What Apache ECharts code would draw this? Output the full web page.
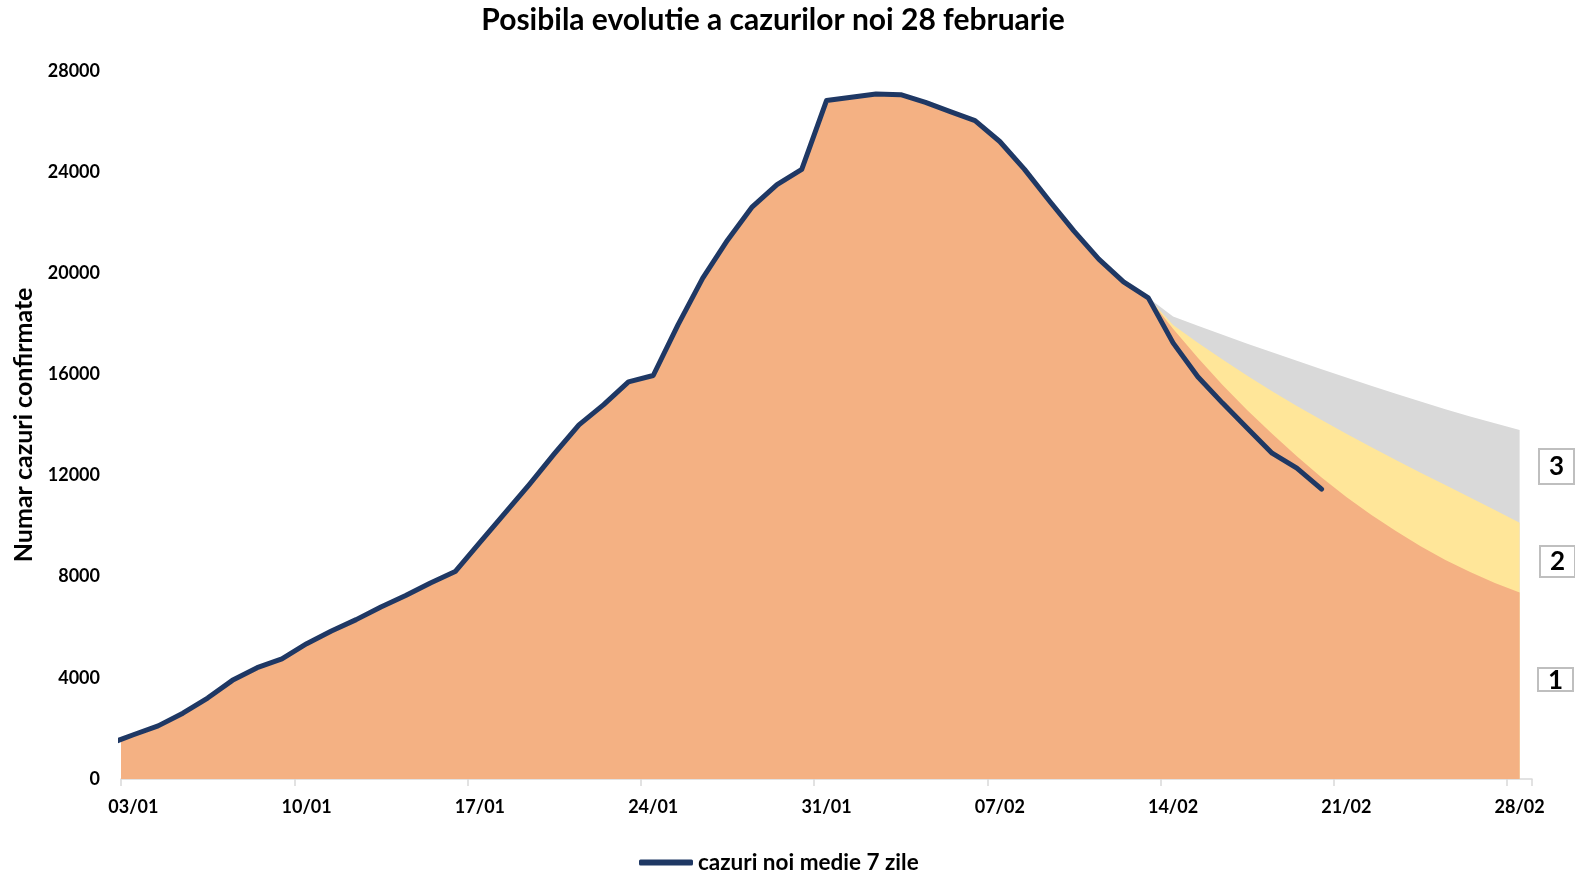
<!DOCTYPE html>
<html>
<head>
<meta charset="utf-8">
<script src="https://cdn.jsdelivr.net/npm/echarts@6/dist/echarts.min.js"></script>
<style>
html,body{margin:0;padding:0;background:#fff;}
#c{width:1575px;height:876px;}
</style>
</head>
<body>
<div id="c"></div>
<script>
// Category labels: 03/01 .. 28/02
const dates = ['03/01','04/01','05/01','06/01','07/01','08/01','09/01','10/01','11/01','12/01','13/01','14/01','15/01','16/01','17/01','18/01','19/01','20/01','21/01','22/01','23/01','24/01','25/01','26/01','27/01','28/01','29/01','30/01','31/01','01/02','02/02','03/02','04/02','05/02','06/02','07/02','08/02','09/02','10/02','11/02','12/02','13/02','14/02','15/02','16/02','17/02','18/02','19/02','20/02','21/02','22/02','23/02','24/02','25/02','26/02','27/02','28/02'];

// 7-day average of new cases, from 02/01 (index -1 on the axis) to 20/02
const actualStartDay = -1;
const actual = [1380,1750,2100,2600,3200,3900,4400,4750,5350,5850,6300,6800,7250,7750,8200,9350,10500,11650,12850,14000,14800,15700,15950,17950,19800,21300,22620,23500,24100,26820,26950,27080,27050,26750,26380,26030,25200,24100,22860,21660,20550,19650,19020,17240,15900,14860,13870,12880,12290,11460];

// Scenarios, from 13/02 (day 41) to 28/02 (day 56)
const scenarioStartDay = 41;
const scenario1 = [19020,17800,16650,15580,14580,13650,12760,11920,11150,10450,9800,9200,8660,8180,7750,7370];
const scenario2 = [19020,17950,17250,16580,15940,15330,14750,14190,13650,13120,12610,12110,11620,11130,10630,10130];
const scenario3 = [19020,18280,17920,17560,17210,16870,16530,16200,15870,15550,15230,14920,14620,14330,14060,13800];

// Y axis ticks
const yTicks = [0,4000,8000,12000,16000,20000,24000,28000];

const FONT = 'Lato';

const actualPts = actual.map((v,i)=>[actualStartDay+i, v]);
const toPts = arr => arr.map((v,i)=>[scenarioStartDay+i, v]);
const orangePts = actualPts.filter(p=>p[0] <= scenarioStartDay).concat(toPts(scenario1).slice(1));

const areaSeries = (name, pts, color) => ({
  name: name, type: 'line', xAxisIndex: 1, data: pts,
  symbol: 'none', silent: true,
  lineStyle: {width: 0, color: color},
  itemStyle: {color: color},
  areaStyle: {color: color, opacity: 1},
  clip: true, animation: false
});

const chart = echarts.init(document.getElementById('c'), null, {renderer: 'canvas'});
chart.setOption({
  animation: false,
  backgroundColor: '#ffffff',
  title: {
    text: 'Posibila evolutie a cazurilor noi 28 februarie',
    left: 768, top: 0, textAlign: 'center',
    textStyle: {fontFamily: FONT, fontWeight: 'bold', fontSize: 30, color: '#000'}
  },
  legend: {
    data: ['cazuri noi medie 7 zile'],
    left: 634, top: 846,
    icon: 'roundRect', itemWidth: 54, itemHeight: 6,
    textStyle: {fontFamily: FONT, fontWeight: 'bold', fontSize: 22.5, color: '#000'}
  },
  grid: {left: 121, right: 43, top: 70.7, bottom: 97, containLabel: false},
  xAxis: [{
    type: 'category', data: dates, boundaryGap: true, position: 'bottom',
    axisLine: {show: true, lineStyle: {color: '#D9D9D9', width: 1.5}},
    axisTick: {show: true, interval: 6, length: 7, lineStyle: {color: '#D9D9D9', width: 1.5}},
    axisLabel: {interval: 6, margin: 19, fontFamily: FONT, fontWeight: 'bold', fontSize: 18, color: '#000'},
    splitLine: {show: false}
  }, {
    type: 'value', min: -0.5, max: 56.5, show: false, position: 'bottom',
    splitLine: {show: false}
  }],
  yAxis: {
    type: 'value', min: yTicks[0], max: yTicks[yTicks.length-1], interval: 4000,
    name: 'Numar cazuri confirmate', nameLocation: 'middle', nameGap: 84, nameRotate: 90,
    nameTextStyle: {fontFamily: FONT, fontWeight: 'bold', fontSize: 25, color: '#000'},
    axisLine: {show: false}, axisTick: {show: false}, splitLine: {show: false},
    axisLabel: {margin: 21, fontFamily: FONT, fontWeight: 'bold', fontSize: 18, color: '#000',
      formatter: v => String(v)}
  },
  series: [
    areaSeries('scenariu 3', toPts(scenario3), '#D9D9D9'),
    areaSeries('scenariu 2', toPts(scenario2), '#FFE699'),
    areaSeries('scenariu 1', orangePts, '#F4B183'),
    {
      name: 'cazuri noi medie 7 zile', type: 'line', xAxisIndex: 1, data: actualPts,
      symbol: 'none', clip: true,
      lineStyle: {width: 5, color: '#1F3864', cap: 'round', join: 'round'},
      itemStyle: {color: '#1F3864'}
    }
  ],
  graphic: [
    {type:'group', left: 1538, top: 448, children:[
      {type:'rect', shape:{x:0,y:0,width:35,height:35}, style:{fill:'#fff', stroke:'#BFBFBF', lineWidth:2}},
      {type:'text', style:{x:17.5,y:18,text:'3',align:'center',verticalAlign:'middle',font:'bold 26px Lato',fill:'#000'}}
    ]},
    {type:'group', left: 1539, top: 545, children:[
      {type:'rect', shape:{x:0,y:0,width:35,height:31}, style:{fill:'#fff', stroke:'#BFBFBF', lineWidth:2}},
      {type:'text', style:{x:17.5,y:16,text:'2',align:'center',verticalAlign:'middle',font:'bold 26px Lato',fill:'#000'}}
    ]},
    {type:'group', left: 1537, top: 667, children:[
      {type:'rect', shape:{x:0,y:0,width:35,height:23}, style:{fill:'#fff', stroke:'#BFBFBF', lineWidth:2}},
      {type:'text', style:{x:17.5,y:13,text:'1',align:'center',verticalAlign:'middle',font:'bold 26px Lato',fill:'#000'}}
    ]}
  ]
});
</script>
</body>
</html>
